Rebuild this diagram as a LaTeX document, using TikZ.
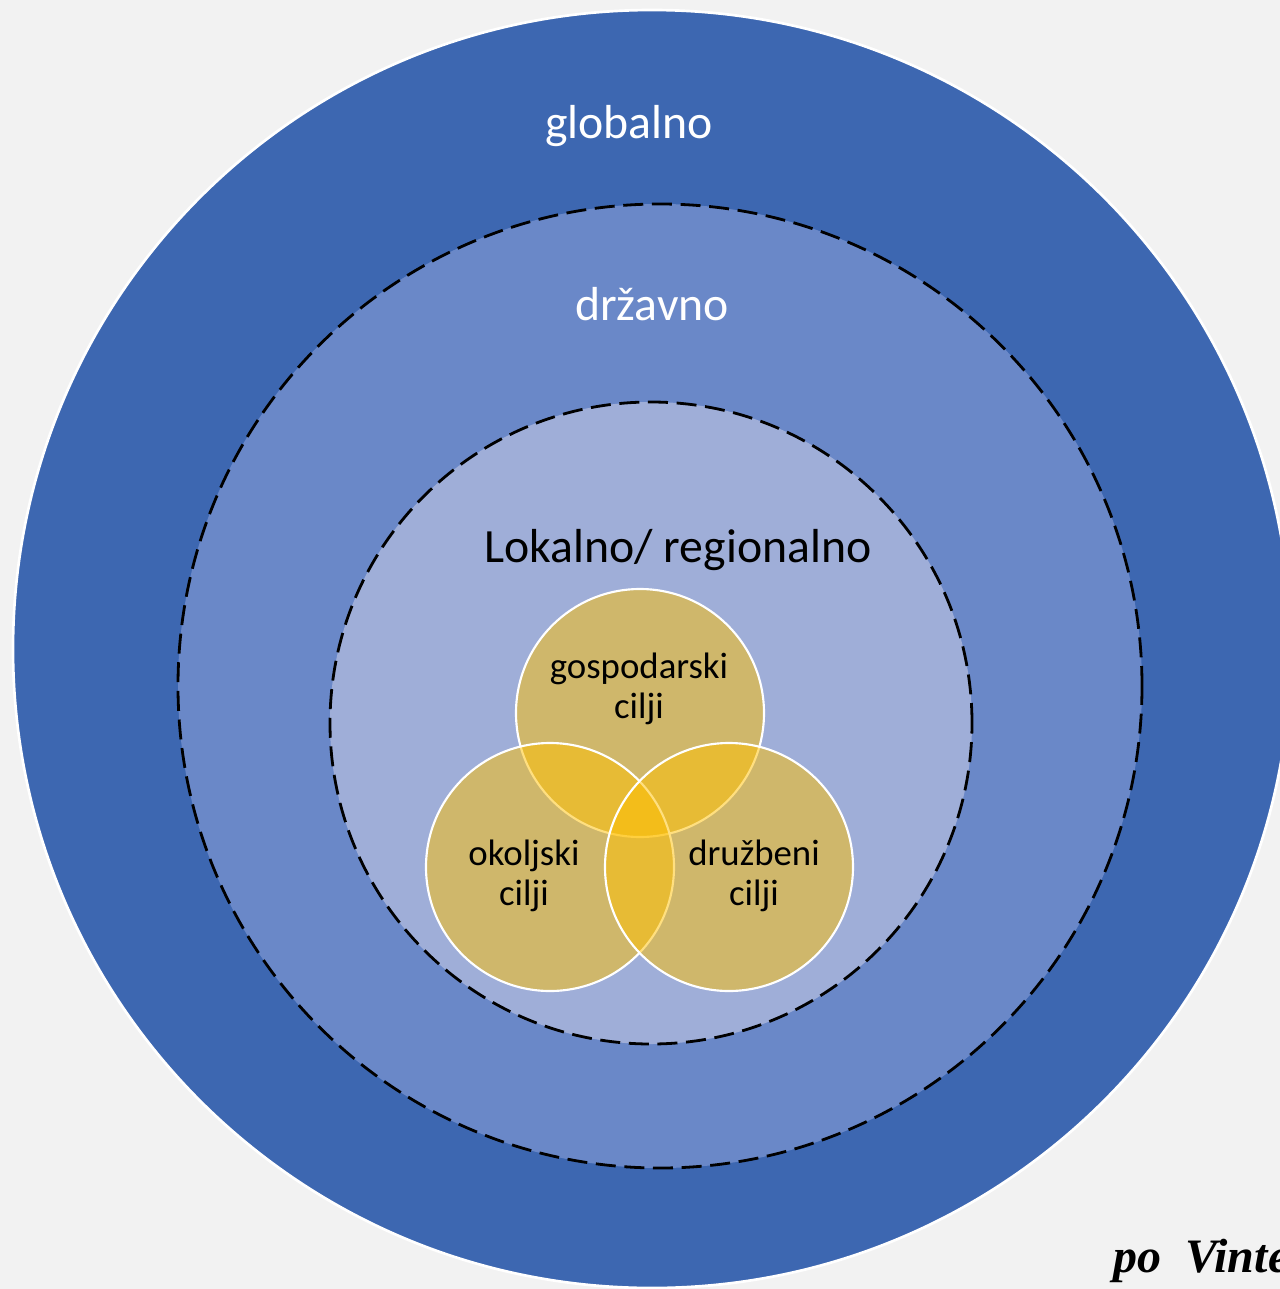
\documentclass[tikz,border=0pt]{standalone}
\usepackage{fontspec}
\setmainfont{Carlito}
\newfontfamily\timesf{Liberation Serif}
\definecolor{bgc}{HTML}{F2F2F2}
\definecolor{outerc}{HTML}{3D67B1}
\definecolor{midc}{HTML}{6A88C8}
\definecolor{innerc}{HTML}{9FAED8}
\definecolor{goldc}{HTML}{FFC000}
\tikzset{
  ring/.style={circle, inner sep=0pt, outer sep=0pt},
  dashring/.style={ring, draw=black, line width=2.1pt, dash pattern=on 15pt off 6.5pt},
  venn/.style={circle, inner sep=0pt, minimum size=186pt, fill=goldc, fill opacity=0.5, draw=white, draw opacity=1, line width=1.6pt},
  bigtxt/.style={font=\fontsize{35.8}{40}\selectfont, anchor=base, inner sep=0pt},
  venntxt/.style={font=\fontsize{27.6}{30}\selectfont, anchor=base, inner sep=0pt, align=center, text=black},
}
\begin{document}
\begin{tikzpicture}[x=0.75pt, y=-0.75pt]
\fill[bgc] (0,0) rectangle (1280,1289);
\useasboundingbox (0,0) rectangle (1280,1289);
\node[ring, fill=outerc, draw=white, line width=2pt, minimum size=958.5pt] (outer) at (652,649) {};
\node[dashring, fill=midc, minimum size=723pt] (mid) at (660,686) {};
\node[dashring, fill=innerc, minimum size=481.5pt] (inner) at (651,723) {};
\node[bigtxt, text=white] (glob) at (629,138) {globalno};
\node[bigtxt, text=white] (drz) at (652,320) {državno};
\node[bigtxt, text=black] (lok) at (678,562) {Lokalno/ regionalno};
\node[venn] (gos) at (640,713) {};
\node[venn] (oko) at (550,867) {};
\node[venn] (dru) at (729,867) {};
\node[venntxt] (gost) at (639,718) {gospodarski\\cilji};
\node[venntxt] (okot) at (524,905) {okoljski\\cilji};
\node[venntxt] (drut) at (754,905) {družbeni\\cilji};
\node[font=\timesf\bfseries\itshape\fontsize{36}{40}\selectfont, anchor=base west, inner sep=0pt] (src) at (1113,1272) {po\ \ Vinter};
\end{tikzpicture}
\end{document}
